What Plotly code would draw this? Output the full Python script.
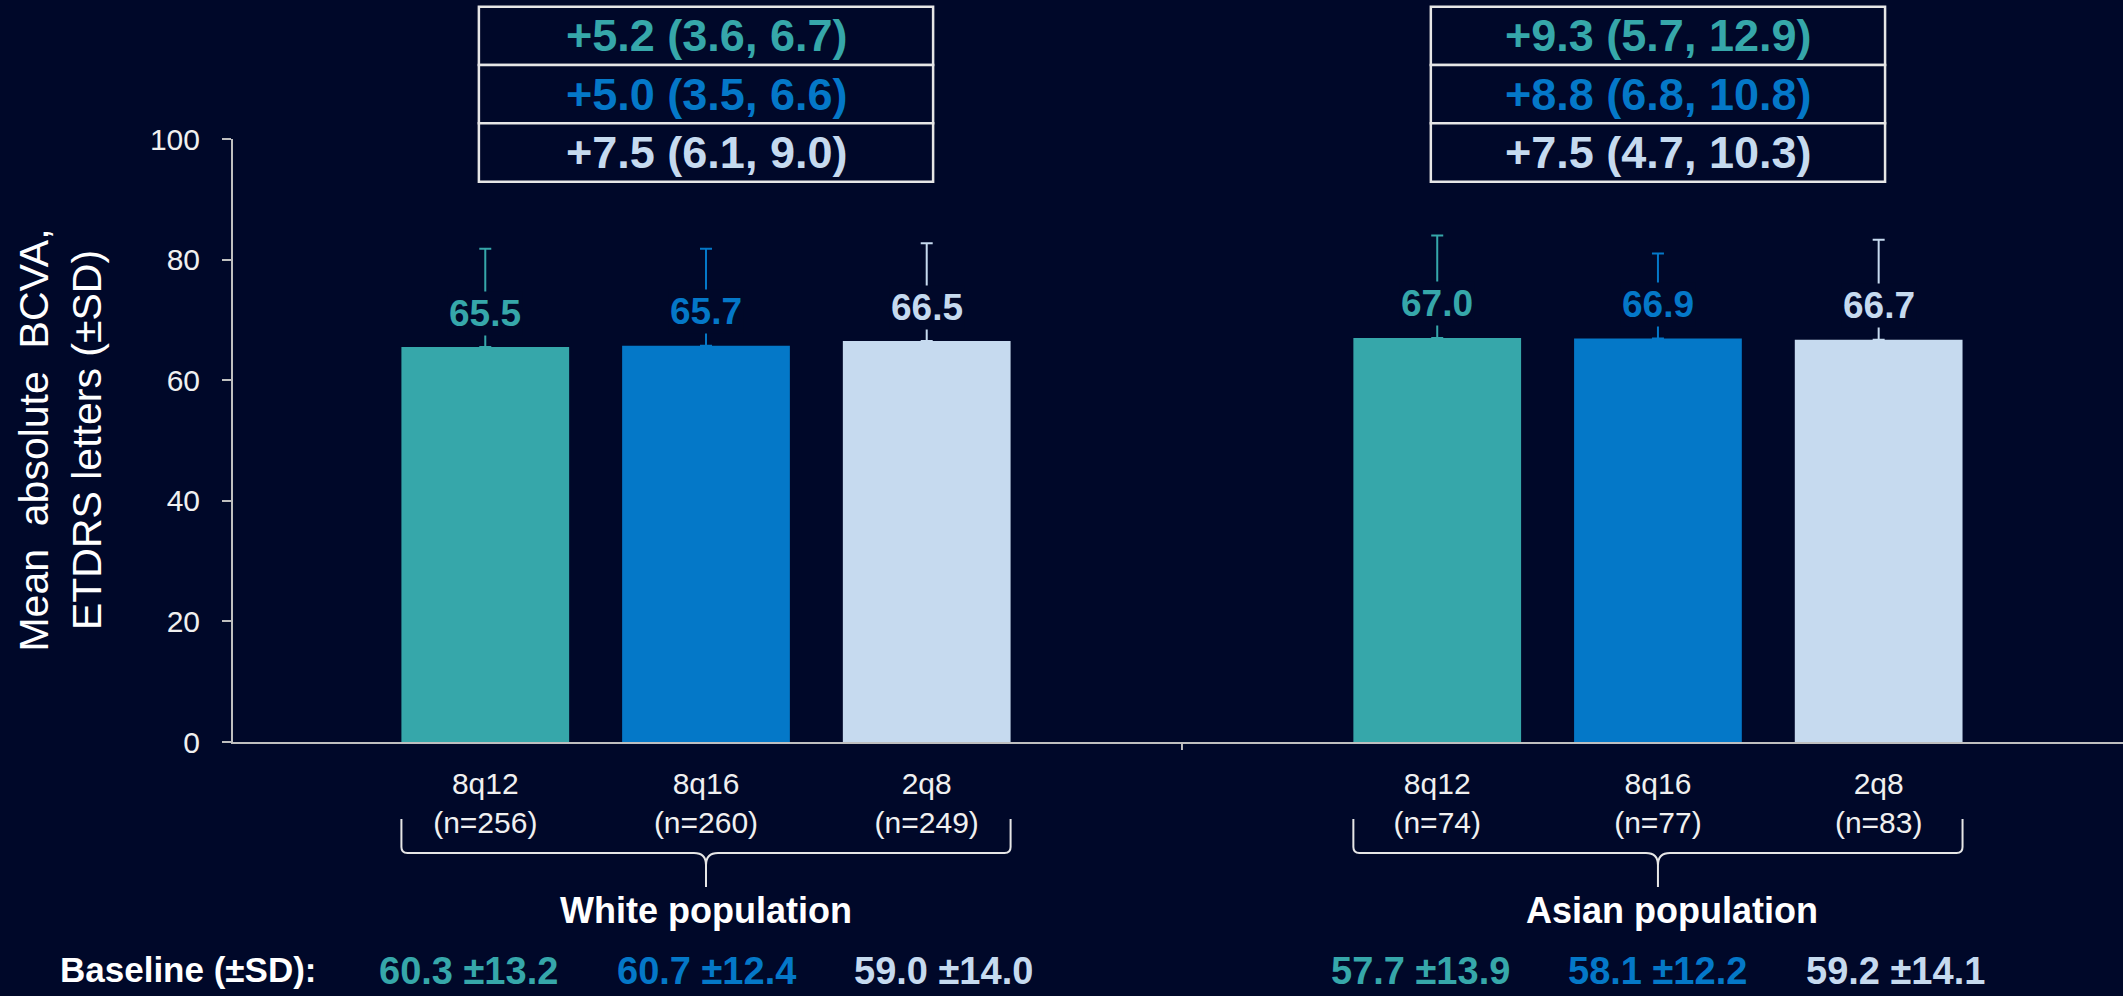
import plotly.graph_objects as go

# ---- data ----
groups = ["White population", "Asian population"]
arms = ["8q12", "8q16", "2q8"]

n_white = [256, 260, 249]
n_asian = [74, 77, 83]

mean_white = [65.5, 65.7, 66.5]
mean_asian = [67.0, 66.9, 66.7]

sd_white = [16.3, 16.1, 16.2]
sd_asian = [17.0, 14.1, 16.6]

# change from baseline: estimate and 95% CI
chg_white = [5.2, 5.0, 7.5]
chg_white_lo = [3.6, 3.5, 6.1]
chg_white_hi = [6.7, 6.6, 9.0]
chg_asian = [9.3, 8.8, 7.5]
chg_asian_lo = [5.7, 6.8, 4.7]
chg_asian_hi = [12.9, 10.8, 10.3]

# baseline BCVA: mean and SD
base_white = [60.3, 60.7, 59.0]
base_white_sd = [13.2, 12.4, 14.0]
base_asian = [57.7, 58.1, 59.2]
base_asian_sd = [13.9, 12.2, 14.1]

y_ticks = [0, 20, 40, 60, 80, 100]

# ---- styling ----
BG = "#000829"
COLORS = ["#36A7AA", "#0478C8", "#C6DAEF"]
AXIS = "#BFBFBF"
FONT = "Arial, Liberation Sans, sans-serif"

group_centers = [0.0, 4.313]
group_label_shift = [0.0, 0.065]
offsets = [-1, 0, 1]
bar_w = 0.76

means = [mean_white, mean_asian]
sds = [sd_white, sd_asian]
ns = [n_white, n_asian]
chg = [chg_white, chg_asian]
chg_lo = [chg_white_lo, chg_asian_lo]
chg_hi = [chg_white_hi, chg_asian_hi]
base = [base_white, base_asian]
base_sd = [base_white_sd, base_asian_sd]

fig = go.Figure()

for i, arm in enumerate(arms):
    xs = [gc + offsets[i] for gc in group_centers]
    ys = [means[g][i] for g in range(2)]
    es = [sds[g][i] for g in range(2)]
    fig.add_trace(go.Bar(
        x=xs, y=ys, width=bar_w, name=arm,
        marker=dict(color=COLORS[i], line=dict(width=0)),
        error_y=dict(type="data", symmetric=False, array=es,
                     arrayminus=[0, 0], color=COLORS[i],
                     thickness=2, width=6),
        showlegend=False,
    ))

annotations = []
shapes = []

# value labels sitting on the error bars
for g in range(2):
    for i in range(3):
        annotations.append(dict(
            x=group_centers[g] + offsets[i], y=means[g][i], xref="x", yref="y",
            text=f"<b>{means[g][i]:.1f}</b>", showarrow=False,
            yshift=34, yanchor="middle", bgcolor=BG, borderpad=1,
            font=dict(family=FONT, size=37, color=COLORS[i]),
        ))

# change-from-baseline table above each group
row_edges = [1.2195, 1.1227, 1.026, 0.9292]
box_half = 1.029
for g in range(2):
    gc = group_centers[g]
    for i in range(3):
        shapes.append(dict(
            type="rect", xref="x", yref="paper",
            x0=gc - box_half, x1=gc + box_half,
            y0=row_edges[i + 1], y1=row_edges[i],
            line=dict(color="#E6E6E6", width=2.5), fillcolor=BG, layer="above",
        ))
        annotations.append(dict(
            x=gc, y=(row_edges[i] + row_edges[i + 1]) / 2, xref="x", yref="paper",
            text=f"<b>+{chg[g][i]:.1f} ({chg_lo[g][i]:.1f}, {chg_hi[g][i]:.1f})</b>",
            showarrow=False, yanchor="middle", xanchor="center",
            font=dict(family=FONT, size=45, color=COLORS[i]),
        ))

# curly braces under each group
px_x = 1 / 220.7
px_y = 1 / 603.0
y_top, y_mid, y_tip = -0.1277, -0.184, -0.2405
for g in range(2):
    gc = group_centers[g]
    xl = gc + offsets[0] - bar_w / 2
    xr = gc + offsets[-1] + bar_w / 2
    r = 6
    t = 12
    path = (
        f"M {xl},{y_top} L {xl},{y_mid + r * px_y} "
        f"Q {xl},{y_mid} {xl + r * px_x},{y_mid} "
        f"L {gc - t * px_x},{y_mid} "
        f"Q {gc},{y_mid} {gc},{y_mid - t * px_y} "
        f"L {gc},{y_tip} "
        f"M {gc},{y_mid - t * px_y} "
        f"Q {gc},{y_mid} {gc + t * px_x},{y_mid} "
        f"L {xr - r * px_x},{y_mid} "
        f"Q {xr},{y_mid} {xr},{y_mid + r * px_y} "
        f"L {xr},{y_top}"
    )
    shapes.append(dict(type="path", xref="x", yref="paper", path=path,
                       line=dict(color="#E6E6E6", width=2)))
    annotations.append(dict(
        x=gc + group_label_shift[g], y=-0.280, xref="x", yref="paper",
        text=f"<b>{groups[g]}</b>", showarrow=False, yanchor="middle",
        font=dict(family=FONT, size=36, color="white"),
    ))
    for i in range(3):
        annotations.append(dict(
            x=gc + (i - 1) * 1.075, y=-0.3805, xref="x", yref="paper",
            text=f"<b>{base[g][i]:.1f} ±{base_sd[g][i]:.1f}</b>",
            showarrow=False, yanchor="middle", xanchor="center",
            font=dict(family=FONT, size=38, color=COLORS[i]),
        ))

annotations.append(dict(
    x=-0.0926, y=-0.378, xref="paper", yref="paper",
    text="<b>Baseline (±SD):</b>", showarrow=False,
    xanchor="left", yanchor="middle",
    font=dict(family=FONT, size=35, color="white"),
))

# y-axis title
annotations.append(dict(
    x=-0.0915, y=0.50, xref="paper", yref="paper",
    text="Mean  absolute  BCVA,<br>ETDRS letters (±SD)", showarrow=False,
    textangle=-90, xanchor="center", yanchor="middle",
    font=dict(family=FONT, size=41, color="white"),
))

# tick separating the two groups on the x axis
sep = (group_centers[0] + offsets[-1] + group_centers[1] + offsets[0]) / 2
shapes.append(dict(type="line", xref="x", yref="paper", x0=sep, x1=sep,
                   y0=0, y1=-8 * px_y, line=dict(color=AXIS, width=2)))

tickvals = [gc + o for gc in group_centers for o in offsets]
ticktext = [f"{arms[i]}<br>(n={ns[g][i]})" for g in range(2) for i in range(3)]

fig.update_layout(
    width=2123, height=996,
    paper_bgcolor=BG, plot_bgcolor=BG,
    margin=dict(l=233, r=0, t=139, b=254),
    barmode="overlay",
    annotations=annotations, shapes=shapes,
    font=dict(family=FONT, color="white"),
    xaxis=dict(range=[-2.143, 6.42], tickvals=tickvals, ticktext=ticktext,
               showline=True, linecolor=AXIS, linewidth=2, ticks="",
               showgrid=False, zeroline=False, ticklabelstandoff=14,
               tickfont=dict(family=FONT, size=30, color="#F0F0F0")),
    yaxis=dict(range=[0, 100], tickvals=y_ticks, showline=True,
               linecolor=AXIS, linewidth=2, ticks="outside", ticklen=9,
               tickwidth=2, tickcolor=AXIS, showgrid=False, zeroline=False,
               ticklabelstandoff=16,
               tickfont=dict(family=FONT, size=30, color="#F0F0F0")),
)

fig.write_html("out.html")
